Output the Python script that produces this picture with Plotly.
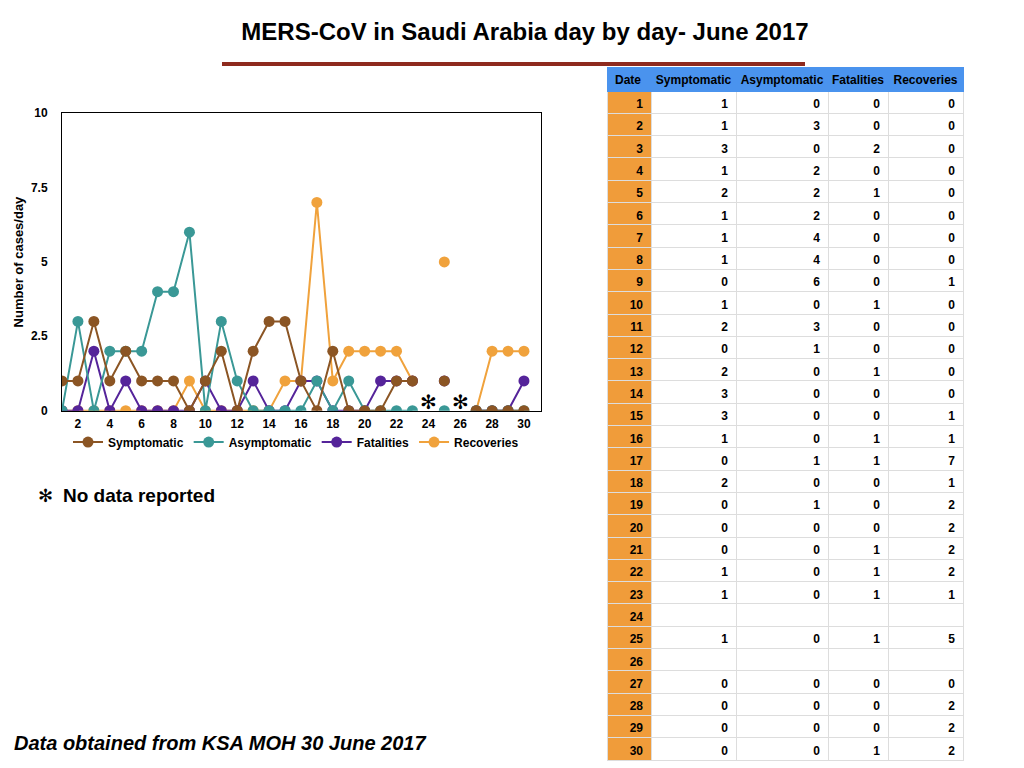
import plotly.graph_objects as go

# MERS-CoV daily counts, June 2017 (None = no data reported)
days = list(range(1, 31))
symptomatic = [1, 1, 3, 1, 2, 1, 1, 1, 0, 1, 2, 0, 2, 3, 3, 1, 0, 2, 0, 0, 0, 1, 1, None, 1, None, 0, 0, 0, 0]
asymptomatic = [0, 3, 0, 2, 2, 2, 4, 4, 6, 0, 3, 1, 0, 0, 0, 0, 1, 0, 1, 0, 0, 0, 0, None, 0, None, 0, 0, 0, 0]
fatalities = [0, 0, 2, 0, 1, 0, 0, 0, 0, 1, 0, 0, 1, 0, 0, 1, 1, 0, 0, 0, 1, 1, 1, None, 1, None, 0, 0, 0, 1]
recoveries = [0, 0, 0, 0, 0, 0, 0, 0, 1, 0, 0, 0, 0, 0, 1, 1, 7, 1, 2, 2, 2, 2, 1, None, 5, None, 0, 2, 2, 2]
no_data_days = [24, 26]

series_names = ["Symptomatic", "Asymptomatic", "Fatalities", "Recoveries"]
series_colors = ["#8B5524", "#3A9896", "#55249A", "#F0A23C"]
series_values = [symptomatic, asymptomatic, fatalities, recoveries]

W, H = 1024, 768
OFF = 8  # page body margin


def px(x):
    return (x - OFF) / W


def py(y):
    return 1 - (y - OFF) / H


fig = go.Figure()

# draw back to front so symptomatic sits on top, legend keeps reading order
for i in reversed(range(4)):
    fig.add_trace(go.Scatter(
        x=days, y=series_values[i], name=series_names[i],
        mode="lines+markers", connectgaps=False,
        line=dict(color=series_colors[i], width=2),
        marker=dict(color=series_colors[i], size=11),
        legendrank=i + 1,
    ))


def cell(v):
    return "" if v is None else str(v)


fig.add_trace(go.Table(
    domain=dict(x=[px(607), px(963)], y=[0, py(61)]),
    columnwidth=[44, 85, 92, 60, 75],
    header=dict(
        values=["Date"] + series_names,
        fill_color="#4A93EE",
        line_color="#4A93EE",
        align=["left", "center"],
        height=24,
        font=dict(family="Liberation Sans", size=12, color="black", weight="bold"),
    ),
    cells=dict(
        values=[days] + [[cell(v) for v in s] for s in series_values],
        fill_color=[["#F09C3A"] * 30] + [["white"] * 30] * 4,
        line_color="#DDDDDD",
        align="right",
        height=22.3,
        font=dict(family="Liberation Sans", size=12, color="black", weight="bold"),
    ),
))

for d in no_data_days:
    fig.add_annotation(x=d, y=0, xref="x", yref="y", text="✻", showarrow=False,
                       yanchor="middle", yshift=9,
                       font=dict(size=20, color="black", family="DejaVu Sans"))

fig.add_annotation(x=px(18), y=py(259), xref="paper", yref="paper",
                   text="<b>Number of cases/day</b>", showarrow=False, textangle=-90,
                   xanchor="center", yanchor="middle",
                   font=dict(size=13, color="black", family="Liberation Sans"))
fig.add_annotation(x=px(36), y=py(497), xref="paper", yref="paper",
                   text="✻", showarrow=False, xanchor="left", yanchor="middle",
                   font=dict(size=18, color="black", family="DejaVu Sans"))
fig.add_annotation(x=px(61), y=py(497), xref="paper", yref="paper",
                   text="<b>No data reported</b>", showarrow=False,
                   xanchor="left", yanchor="middle",
                   font=dict(size=19, color="black", family="Liberation Sans"))
fig.add_annotation(x=px(12), y=py(750), xref="paper", yref="paper",
                   text="<b><i>Data obtained from KSA MOH 30 June 2017</i></b>", showarrow=False,
                   xanchor="left", yanchor="middle",
                   font=dict(size=20, color="black", family="Liberation Sans"))

fig.add_shape(type="line", xref="paper", yref="paper",
              x0=px(222), x1=px(805), y0=py(58), y1=py(58),
              line=dict(color="#8E2A1E", width=4))

fig.update_layout(
    width=W, height=H,
    margin=dict(l=0, r=0, t=0, b=0),
    paper_bgcolor="white", plot_bgcolor="white",
    font=dict(family="Liberation Sans", color="black"),
    title=dict(text="<b>MERS-CoV in Saudi Arabia day by day- June 2017</b>",
               x=px(525), xanchor="center", y=py(32), yanchor="middle",
               font=dict(size=24, color="black")),
    xaxis=dict(domain=[px(62), px(541)], range=[1, 31.07],
               tickvals=list(range(2, 31, 2)), showgrid=False, zeroline=False,
               showline=True, linecolor="black", linewidth=1, mirror=True,
               ticks="outside", ticklen=2, tickcolor="rgba(0,0,0,0)",
               tickfont=dict(size=12, weight="bold")),
    yaxis=dict(domain=[py(411), py(108)], range=[0, 10],
               tickvals=[0, 2.5, 5, 7.5, 10], ticktext=["0", "2.5", "5", "7.5", "10"],
               showgrid=False, zeroline=False,
               showline=True, linecolor="black", linewidth=1, mirror=True,
               ticks="outside", ticklen=11, tickcolor="rgba(0,0,0,0)",
               tickfont=dict(size=12, weight="bold")),
    legend=dict(orientation="h", x=px(296), xanchor="center",
                y=py(443), yanchor="middle",
                font=dict(size=12, weight="bold"), itemwidth=30),
    showlegend=True,
)

fig.write_html("out.html")
